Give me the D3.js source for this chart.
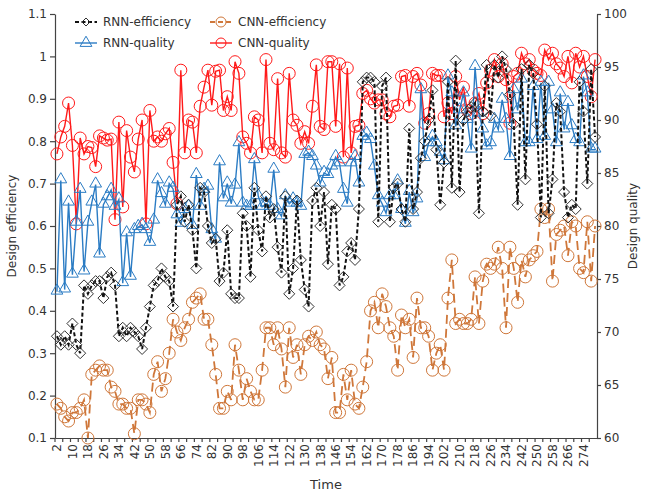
<!DOCTYPE html>
<html>
<head>
<meta charset="utf-8">
<script src="https://cdn.jsdelivr.net/npm/d3@7"></script>
<style>
  body { margin: 0; background: #fff; }
  text { font-family: "DejaVu Sans", Verdana, sans-serif; fill: #333; }
</style>
</head>
<body>
<div id="chart"></div>
<script>
// chart data
const times = d3.range(2, 282, 2);

const rnnEff = [0.34,0.32,0.34,0.32,0.37,0.32,0.30,0.46,0.44,0.46,0.47,0.47,0.43,0.48,0.49,0.46,0.34,0.36,0.34,0.36,0.35,0.34,0.31,0.36,0.41,0.46,0.47,
  0.50,0.48,0.47,0.41,0.65,0.67,0.61,0.65,0.59,0.50,0.69,0.68,0.60,0.56,0.57,0.47,0.49,0.59,0.44,0.43,0.43,0.63,0.60,0.48,0.69,0.59,0.54,0.67,
  0.62,0.64,0.55,0.49,0.67,0.44,0.50,0.66,0.52,0.45,0.41,0.66,0.69,0.60,0.68,0.51,0.65,0.64,0.46,0.48,0.54,0.56,0.52,0.64,0.94,0.95,0.95,0.94,0.61,
  0.93,0.95,0.61,0.69,0.70,0.64,0.61,0.83,0.64,0.68,0.76,0.80,0.85,0.92,0.78,0.65,0.75,0.94,0.69,0.99,0.68,0.85,0.87,0.88,0.89,0.63,0.87,0.98,
  0.86,0.98,0.95,1.00,0.97,0.91,0.84,0.65,0.97,0.71,0.98,0.96,0.84,0.62,0.93,0.63,0.71,0.89,0.87,0.68,0.62,0.65,0.64,0.94,0.87,0.70,0.97,0.81];

const cnnEff = [0.18,0.17,0.15,0.14,0.16,0.16,0.17,0.19,0.10,0.25,0.26,0.27,0.26,0.26,0.22,0.21,0.18,0.18,0.17,0.17,0.11,0.19,0.19,0.18,0.16,0.25,0.28,
  0.21,0.24,0.30,0.38,0.35,0.33,0.36,0.38,0.42,0.43,0.44,0.38,0.38,0.32,0.25,0.17,0.17,0.21,0.19,0.32,0.26,0.19,0.24,0.21,0.19,0.19,0.26,0.36,
  0.36,0.32,0.36,0.31,0.22,0.36,0.29,0.32,0.25,0.32,0.34,0.33,0.35,0.32,0.31,0.24,0.29,0.16,0.16,0.25,0.19,0.26,0.18,0.17,0.22,0.28,0.40,0.42,0.36,
  0.44,0.41,0.36,0.34,0.26,0.39,0.36,0.38,0.29,0.43,0.36,0.36,0.34,0.26,0.30,0.32,0.26,0.43,0.52,0.37,0.38,0.37,0.37,0.38,0.48,0.37,0.47,0.51,
  0.50,0.51,0.55,0.50,0.36,0.55,0.50,0.42,0.52,0.48,0.52,0.53,0.54,0.64,0.62,0.64,0.47,0.58,0.59,0.60,0.53,0.61,0.60,0.50,0.49,0.61,0.47,0.60];

const rnnQual = [73.8,84.3,74.0,82.2,75.4,80.3,83.4,75.7,80.3,82.2,83.9,77.3,82.0,82.7,83.4,81.8,82.5,74.6,79.3,75.2,79.6,79.9,80.1,79.6,78.4,80.5,84.3,
  83.0,82.0,84.0,83.5,81.0,80.2,81.5,81.8,80.0,84.8,81.8,83.4,83.7,79.6,78.7,86.0,82.6,84.0,82.1,83.8,87.8,82.1,81.8,81.8,86.2,82.8,81.8,82.1,
  81.8,85.3,81.5,80.9,82.8,82.1,82.5,82.1,81.8,86.7,86.9,86.5,85.6,84.0,85.0,84.8,85.6,86.5,85.9,83.4,82.1,85.9,86.5,84.0,88.4,88.7,88.1,85.6,82.8,
  82.1,81.2,82.8,82.8,84.2,81.5,80.2,83.2,81.2,82.5,92.8,86.4,87.8,88.4,87.8,86.9,86.1,94.1,92.5,89.4,90.9,92.5,90.0,87.2,95.0,90.6,89.1,87.5,
  87.8,90.0,89.1,91.9,90.0,86.5,92.8,90.9,93.8,87.8,87.8,93.1,88.1,93.5,88.4,93.5,90.9,87.8,92.5,89.1,91.6,89.4,88.1,87.8,94.1,92.5,87.2,87.2];

const cnnQual = [86.8,88.4,89.4,91.6,87.6,80.2,88.3,86.8,87.5,87.4,85.6,88.5,88.3,88.1,88.2,80.6,89.8,81.8,89.0,86.5,85.1,88.2,90.0,80.2,90.9,88.0,88.4,
  88.0,88.7,89.2,86.0,82.1,94.7,86.9,90.0,89.8,86.9,91.3,93.1,94.7,91.4,94.6,94.7,90.9,92.2,90.9,95.5,94.4,88.4,87.8,86.9,90.3,90.0,86.9,95.7,
  87.8,87.2,93.9,86.9,86.5,94.4,90.0,89.5,87.8,88.9,87.8,91.3,95.2,89.4,89.1,95.5,95.5,89.4,95.3,86.5,94.9,86.9,89.4,89.5,92.5,92.8,92.0,91.6,91.9,
  91.9,90.6,90.3,91.3,91.4,94.1,94.2,91.3,94.1,94.4,93.3,89.7,90.6,94.4,94.2,94.2,90.3,91.6,90.6,94.1,91.9,93.1,90.9,90.6,91.6,92.5,90.6,93.5,
  94.7,95.7,94.1,95.3,93.8,89.7,94.1,94.4,96.3,95.3,95.7,94.7,94.4,94.2,96.6,95.7,96.3,95.3,94.9,94.1,96.0,93.5,96.3,95.0,96.0,94.1,92.2,95.7];

const effTicks = [0.1,0.2,0.3,0.4,0.5,0.6,0.7,0.8,0.9,1,1.1];
const qualTicks = [60,65,70,75,80,85,90,95,100];

// frame
const FRAME_WIDTH = 645;
const FRAME_HEIGHT = 491;
const MARGINS = {left: 55, right: 48, top: 14, bottom: 53};

const svg = d3.select("#chart")
  .append("svg")
    .attr("width", FRAME_WIDTH)
    .attr("height", FRAME_HEIGHT);

const xScale = d3.scaleBand()
  .domain(times)
  .range([MARGINS.left, FRAME_WIDTH - MARGINS.right]);
const cx = t => xScale(t) + xScale.bandwidth() / 2;

const yLeft = d3.scaleLinear()
  .domain([0.1, 1.1])
  .range([FRAME_HEIGHT - MARGINS.bottom, MARGINS.top]);
const yRight = d3.scaleLinear()
  .domain([60, 100])
  .range([FRAME_HEIGHT - MARGINS.bottom, MARGINS.top]);

const bottomY = FRAME_HEIGHT - MARGINS.bottom;
const axisColor = "#444";

// left axis
const gLeft = svg.append("g")
  .attr("transform", "translate(" + MARGINS.left + ",0)")
  .call(d3.axisLeft(yLeft).tickValues(effTicks).tickSize(5).tickSizeOuter(0)
        .tickFormat(d3.format("~g")));
// right axis
const gRight = svg.append("g")
  .attr("transform", "translate(" + (FRAME_WIDTH - MARGINS.right) + ",0)")
  .call(d3.axisRight(yRight).tickValues(qualTicks).tickSize(4).tickSizeOuter(0));
// bottom axis labels
const gBottom = svg.append("g")
  .attr("transform", "translate(0," + bottomY + ")")
  .call(d3.axisBottom(xScale).tickValues(times.filter((t, i) => i % 4 === 0))
        .tickSize(0).tickSizeOuter(0));
gBottom.selectAll("text")
  .attr("transform", "rotate(-90)")
  .attr("x", -6)
  .attr("y", 0)
  .attr("dy", "0.36em")
  .style("text-anchor", "end");
// category tick marks every 2 categories
gBottom.selectAll(".ctick")
  .data(times.filter((t, i) => i % 2 === 0))
  .enter()
  .append("line")
    .attr("x1", d => xScale(d))
    .attr("x2", d => xScale(d))
    .attr("y1", 0)
    .attr("y2", 4)
    .attr("stroke", axisColor);

[gLeft, gRight, gBottom].forEach(g => {
  g.selectAll("path, line").attr("stroke", axisColor).attr("stroke-width", 1.2);
  g.selectAll("text").attr("font-size", "12px").attr("fill", "#333")
    .attr("font-family", "'DejaVu Sans', Verdana, sans-serif");
});

// axis titles
svg.append("text")
  .attr("transform", "translate(16," + ((MARGINS.top + bottomY) / 2) + ") rotate(-90)")
  .attr("text-anchor", "middle")
  .attr("font-size", "12px")
  .text("Design efficiency");
svg.append("text")
  .attr("transform", "translate(637," + ((MARGINS.top + bottomY) / 2) + ") rotate(-90)")
  .attr("text-anchor", "middle")
  .attr("font-size", "12px")
  .text("Design quality");
svg.append("text")
  .attr("x", (MARGINS.left + FRAME_WIDTH - MARGINS.right) / 2)
  .attr("y", 489)
  .attr("text-anchor", "middle")
  .attr("font-size", "13px")
  .text("Time");

// marker shapes
const diamond = r => "M0," + (-r) + "L" + r + ",0L0," + r + "L" + (-r) + ",0Z";
const triangle = d3.symbol().type(d3.symbolTriangle).size(60)();

const series = [
  {name: "CNN-quality",    values: cnnQual, y: yRight, color: "#ff1a1a", dash: null,  width: 1.4, marker: "circle"},
  {name: "RNN-quality",    values: rnnQual, y: yRight, color: "#2b7cc4", dash: null,  width: 1.4, marker: "triangle"},
  {name: "CNN-efficiency", values: cnnEff,  y: yLeft,  color: "#cf773a", dash: "9,5", width: 1.8, marker: "circle"},
  {name: "RNN-efficiency", values: rnnEff,  y: yLeft,  color: "#111",    dash: "4,2.5", width: 2, marker: "diamond"}
];

function addMarker(sel, s) {
  if (s.marker === "circle") {
    sel.append("circle").attr("r", 6);
  } else if (s.marker === "triangle") {
    sel.append("path").attr("d", triangle).attr("transform", "translate(0,-1)");
  } else {
    sel.append("path").attr("d", diamond(5.5)).attr("stroke", "#333");
  }
}

series.forEach(s => {
  const line = d3.line()
    .x((d, i) => cx(times[i]))
    .y(d => s.y(d));
  svg.append("path")
    .datum(s.values)
    .attr("d", line)
    .attr("fill", "none")
    .attr("stroke", s.color)
    .attr("stroke-width", s.width)
    .attr("stroke-dasharray", s.dash);
  const marks = svg.append("g")
    .attr("fill", "none")
    .attr("stroke", s.color)
    .attr("stroke-width", 1)
    .selectAll("g")
    .data(s.values)
    .enter()
    .append("g")
      .attr("transform", (d, i) => "translate(" + cx(times[i]) + "," + s.y(d) + ")");
  addMarker(marks, s);
});

// legend
const legendItems = [
  {s: series[3], x: 75,  y: 22},
  {s: series[2], x: 210, y: 22},
  {s: series[1], x: 75,  y: 43},
  {s: series[0], x: 210, y: 43}
];
legendItems.forEach(item => {
  const g = svg.append("g").attr("transform", "translate(" + item.x + "," + item.y + ")");
  g.append("line")
    .attr("x1", 0).attr("x2", 22).attr("y1", 0).attr("y2", 0)
    .attr("stroke", item.s.color)
    .attr("stroke-width", item.s.width)
    .attr("stroke-dasharray", item.s.marker === "diamond" ? "4,2.5" : (item.s.dash ? "5,3" : null));
  const m = g.append("g")
    .attr("transform", "translate(11,0)")
    .attr("fill", "none")
    .attr("stroke", item.s.color)
    .attr("stroke-width", 1);
  if (item.s.marker === "circle") m.append("circle").attr("r", 5);
  else if (item.s.marker === "triangle") m.append("path").attr("d", triangle);
  else m.append("path").attr("d", diamond(4)).attr("stroke", "#333");
  g.append("text")
    .attr("x", 28)
    .attr("y", 0)
    .attr("dy", "0.35em")
    .attr("font-size", "12px")
    .text(item.s.name);
});
</script>
</body>
</html>
